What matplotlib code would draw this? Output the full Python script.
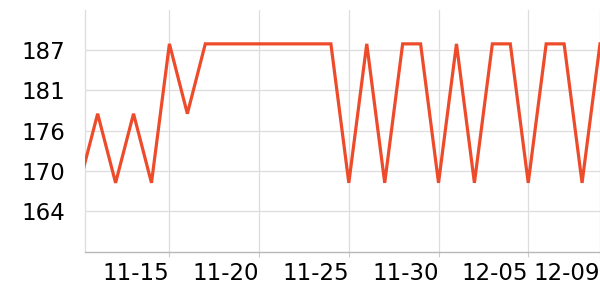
import matplotlib
matplotlib.use("Agg")
import matplotlib.pyplot as plt
import matplotlib.dates as mdates
import numpy as np
import datetime as dt

# Data
dates = [dt.date(2023, 11, 10) + dt.timedelta(days=i) for i in range(30)]
values = [168.3, 178.1, 168.3, 178.1, 168.3, 188.0, 178.1, 188.0, 188.0, 188.0,
          188.0, 188.0, 188.0, 188.0, 188.0, 168.3, 188.0, 168.3, 188.0, 188.0,
          168.3, 188.0, 168.3, 188.0, 188.0, 168.3, 188.0, 188.0, 168.3, 188.0]
y_ticks = [164.3, 170.0, 175.7, 181.4, 187.1]
y_tick_labels = ["164", "170", "176", "181", "187"]
x_tick_dates = [dt.date(2023, 11, 15), dt.date(2023, 11, 20), dt.date(2023, 11, 25),
                dt.date(2023, 11, 30), dt.date(2023, 12, 5), dt.date(2023, 12, 9)]
x_tick_labels = ["11-15", "11-20", "11-25", "11-30", "12-05", "12-09"]

fig = plt.figure(figsize=(6, 3), dpi=100)
ax = fig.add_axes([85/600, 48/300, 515/600, 242/300])

xnum = mdates.date2num(dates)
ax.plot(xnum, values, color="#ee4b2b", lw=2.3, solid_joinstyle="miter", zorder=3)

ax.set_xlim(xnum[0] + 0.295, xnum[-1])
ax.set_ylim(158.5, 192.8)

ax.set_yticks(y_ticks)
ax.set_yticklabels(y_tick_labels, fontsize=16.5)
ax.set_xticks(mdates.date2num(x_tick_dates))
ax.set_xticklabels(x_tick_labels, fontsize=16.5, ha="right")

ax.grid(True, color="#dddddd", lw=0.9)
ax.set_axisbelow(True)
for s in ["top", "right"]:
    ax.spines[s].set_visible(False)
ax.spines["left"].set_color("#dddddd")
ax.spines["left"].set_linewidth(0.9)
ax.spines["bottom"].set_color("#b8b8b8")
ax.spines["bottom"].set_linewidth(1.0)
ax.tick_params(axis="y", length=0, pad=14.5)
ax.tick_params(axis="x", length=3.6, color="#cccccc", pad=3.6)

fig.savefig("out.png", dpi=100)
